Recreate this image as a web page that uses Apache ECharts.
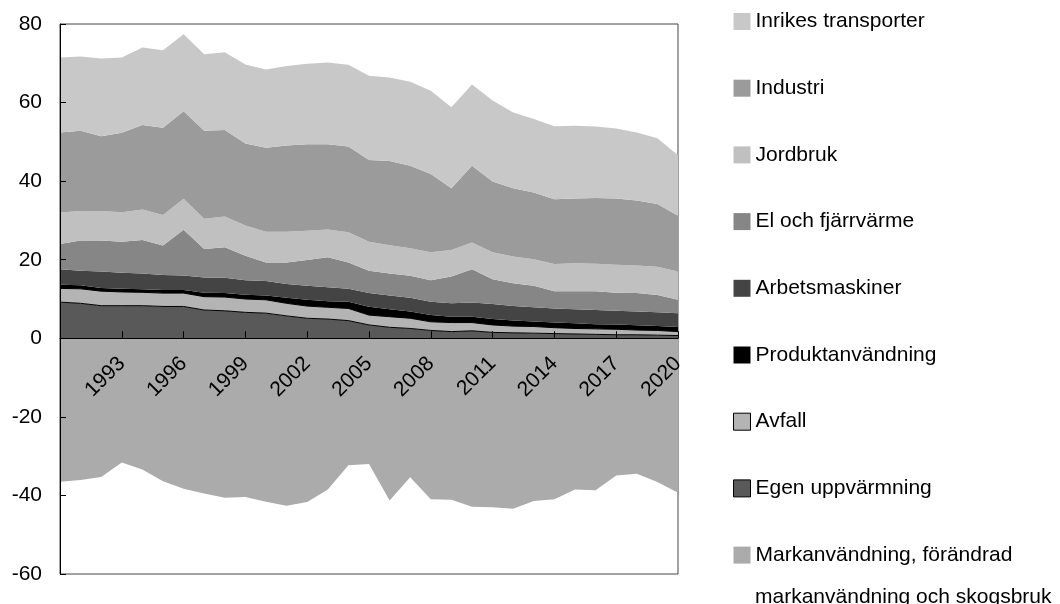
<!DOCTYPE html>
<html>
<head>
<meta charset="utf-8">
<script src="https://cdn.jsdelivr.net/npm/echarts@6/dist/echarts.min.js"></script>
<style>
  html, body { margin: 0; padding: 0; background: #fff; }
  #chart { width: 1060px; height: 604px; }
</style>
</head>
<body>
<div id="chart"></div>
<script>
// år
const years = ['1990', '1991', '1992', '1993', '1994', '1995', '1996', '1997', '1998', '1999',
  '2000', '2001', '2002', '2003', '2004', '2005', '2006', '2007', '2008', '2009',
  '2010', '2011', '2012', '2013', '2014', '2015', '2016', '2017', '2018', '2019', '2020'];

// utsläpp per sektor (miljoner ton)
const egenUppvarmning = [9.2, 8.9, 8.3, 8.3, 8.3, 8.1, 8.1, 7.2, 7.0, 6.6, 6.4, 5.7, 5.1, 4.9, 4.5, 3.4, 2.8, 2.5, 2.0, 1.7, 1.9, 1.5, 1.4, 1.3, 1.2, 1.1, 1.0, 0.9, 0.9, 0.8, 0.7];
const avfall = [3.5, 3.7, 3.7, 3.5, 3.4, 3.4, 3.4, 3.4, 3.5, 3.4, 3.4, 3.2, 3.1, 3.0, 3.1, 2.5, 2.7, 2.6, 2.2, 2.3, 2.1, 1.9, 1.7, 1.7, 1.5, 1.4, 1.4, 1.4, 1.2, 1.2, 1.0];
const produktanvandning = [0.9, 0.9, 0.8, 0.8, 0.8, 0.8, 0.8, 1.0, 1.0, 1.1, 1.1, 1.4, 1.6, 1.5, 1.7, 2.1, 1.9, 1.7, 1.7, 1.5, 1.5, 1.5, 1.4, 1.3, 1.3, 1.3, 1.2, 1.2, 1.2, 1.1, 1.2];
const arbetsmaskiner = [4.0, 3.7, 4.2, 4.1, 4.0, 3.8, 3.7, 3.9, 3.9, 3.7, 3.7, 3.5, 3.6, 3.6, 3.3, 3.5, 3.5, 3.5, 3.4, 3.4, 3.6, 3.8, 3.7, 3.6, 3.6, 3.6, 3.6, 3.5, 3.5, 3.5, 3.5];
const elFjarrvarme = [6.4, 7.7, 7.9, 7.9, 8.5, 7.5, 11.6, 7.2, 7.8, 6.2, 4.7, 5.5, 6.5, 7.6, 6.7, 5.7, 5.6, 5.6, 5.5, 6.8, 8.5, 6.3, 5.8, 5.5, 4.4, 4.6, 4.8, 4.6, 4.7, 4.4, 3.4];
const jordbruk = [8.0, 7.5, 7.5, 7.5, 7.8, 7.8, 7.9, 7.7, 7.8, 7.7, 7.8, 7.8, 7.5, 7.1, 7.7, 7.4, 7.2, 7.0, 7.1, 6.8, 6.8, 6.9, 6.8, 6.7, 6.9, 7.1, 7.0, 7.1, 7.0, 7.2, 7.2];
const industri = [20.4, 20.4, 19.0, 20.2, 21.5, 22.2, 22.3, 22.4, 22.0, 20.9, 21.4, 22.0, 22.0, 21.7, 21.8, 20.8, 21.4, 21.0, 19.9, 15.7, 19.5, 18.0, 17.4, 17.0, 16.5, 16.5, 16.7, 16.9, 16.6, 16.0, 14.2];
const inrikesTransporter = [19.1, 18.9, 19.8, 19.2, 19.7, 19.7, 19.6, 19.5, 19.8, 20.1, 19.9, 20.2, 20.5, 20.8, 20.8, 21.4, 21.3, 21.4, 21.2, 20.6, 20.7, 20.6, 19.3, 18.7, 18.6, 18.5, 18.2, 17.8, 17.3, 16.7, 15.4];
const markanvandning = [-36.5, -36.1, -35.3, -31.6, -33.4, -36.4, -38.3, -39.5, -40.6, -40.4, -41.6, -42.6, -41.7, -38.5, -32.3, -32.0, -41.3, -35.4, -41.0, -41.1, -42.9, -43.0, -43.4, -41.4, -41.0, -38.5, -38.7, -34.9, -34.5, -36.6, -39.3];

const FONT = 'Liberation Sans, Arial, sans-serif';
const MARK_LINE1 = 'Markanvändning, förändrad';
const MARK_LINE2 = 'markanvändning och skogsbruk';
const MARK_NAME = MARK_LINE1 + ' ' + MARK_LINE2;

// serier nerifrån och upp (första serien hamnar underst i stapeln)
const layers = [
  { name: MARK_NAME, data: markanvandning, color: '#ababab' },
  { name: 'Egen uppvärmning', data: egenUppvarmning, color: '#595959', border: true },
  { name: 'Avfall', data: avfall, color: '#b4b4b4', border: true },
  { name: 'Produktanvändning', data: produktanvandning, color: '#000000' },
  { name: 'Arbetsmaskiner', data: arbetsmaskiner, color: '#444444' },
  { name: 'El och fjärrvärme', data: elFjarrvarme, color: '#868686' },
  { name: 'Jordbruk', data: jordbruk, color: '#c0c0c0' },
  { name: 'Industri', data: industri, color: '#9b9b9b' },
  { name: 'Inrikes transporter', data: inrikesTransporter, color: '#c8c8c8' }
];

const series = layers.map(function (l) {
  return {
    name: l.name,
    type: 'line',
    stack: 'total',
    data: l.data,
    color: l.color,
    showSymbol: false,
    symbol: 'none',
    silent: true,
    lineStyle: l.border ? { color: '#000', width: 1 } : { width: 0 },
    areaStyle: { color: l.color, opacity: 1 }
  };
});

// legenden visas uppifrån och ned
const legendData = layers.slice().reverse().map(function (l) {
  return {
    name: l.name,
    itemStyle: {
      color: l.color,
      borderColor: l.border ? '#000' : l.color,
      borderWidth: l.border ? 1 : 0
    }
  };
});

const every3 = function (i) { return i > 0 && i % 3 === 0; };

// plotytan: 60..678 x 24..574, nollan ligger 236 px ovanför underkanten
const GRID_H = 550;
const zeroOffset = -GRID_H * 60 / 140;

// legendens rader
const LEGEND_LEFT = 733;
const LEGEND_STEP = 66.7;
const LEGEND_FIRST = 21;

const chart = echarts.init(document.getElementById('chart'));
chart.setOption({
  animation: false,
  backgroundColor: '#fff',
  textStyle: { fontFamily: FONT },
  grid: {
    left: 60, right: 382, top: 24, height: GRID_H,
    outerBoundsMode: 'none',
    containLabel: false,
    show: true, borderColor: '#444', borderWidth: 1, backgroundColor: 'transparent'
  },
  legend: {
    orient: 'vertical',
    left: LEGEND_LEFT,
    top: 0,
    height: 900,
    padding: 0,
    icon: 'rect',
    itemWidth: 17,
    itemHeight: 17,
    itemGap: LEGEND_STEP - 43,
    selectedMode: false,
    textStyle: { fontFamily: FONT, fontSize: 21, color: '#000', lineHeight: 43 },
    formatter: function (name) { return name === MARK_NAME ? MARK_LINE1 : name; },
    data: legendData
  },
  graphic: [{
    type: 'text',
    x: LEGEND_LEFT + 22,
    y: LEGEND_FIRST + LEGEND_STEP * 8 + 43,
    style: {
      text: MARK_LINE2,
      font: '21px ' + FONT,
      fill: '#000',
      verticalAlign: 'middle'
    }
  }],
  xAxis: {
    type: 'category',
    data: years,
    boundaryGap: false,
    position: 'bottom',
    offset: zeroOffset,
    z: 5,
    axisLine: { onZero: false, lineStyle: { color: '#000', width: 1 } },
    axisTick: { inside: true, length: 7, interval: every3, lineStyle: { color: '#000' } },
    axisLabel: {
      interval: every3,
      rotate: 45,
      margin: 22,
      fontSize: 21,
      color: '#000',
      fontFamily: FONT
    },
    splitLine: { show: false }
  },
  yAxis: {
    type: 'value',
    min: -60,
    max: 80,
    interval: 20,
    z: 5,
    axisLine: { show: true, lineStyle: { color: '#000', width: 1 } },
    axisTick: { show: true, inside: true, length: 6, lineStyle: { color: '#000' } },
    axisLabel: { fontSize: 21, color: '#000', margin: 18, fontFamily: FONT },
    splitLine: { show: false }
  },
  series: series
});
</script>
</body>
</html>
